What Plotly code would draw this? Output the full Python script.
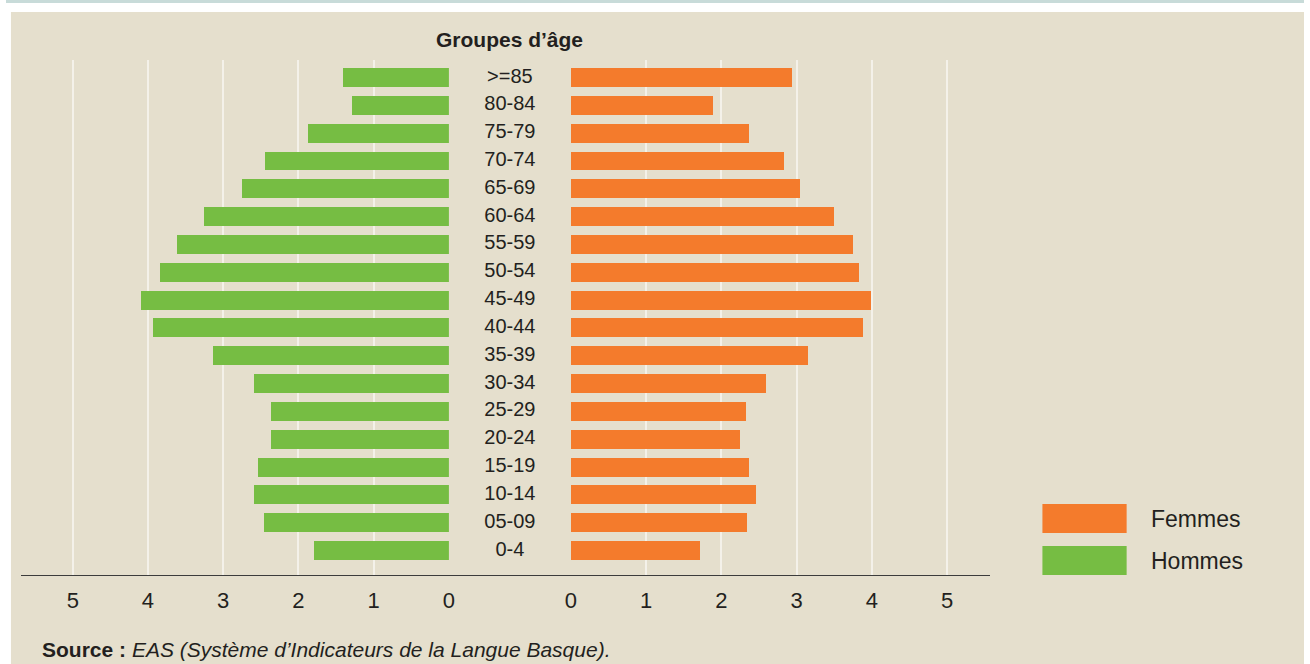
import plotly.graph_objects as go

# age groups, bottom to top
AGES = ['0-4', '05-09', '10-14', '15-19', '20-24', '25-29', '30-34', '35-39', '40-44',
        '45-49', '50-54', '55-59', '60-64', '65-69', '70-74', '75-79', '80-84', '>=85']
HOMMES = [1.79, 2.46, 2.59, 2.54, 2.37, 2.37, 2.59, 3.14, 3.93,
          4.09, 3.84, 3.61, 3.26, 2.75, 2.45, 1.88, 1.29, 1.41]
FEMMES = [1.72, 2.34, 2.46, 2.36, 2.25, 2.33, 2.59, 3.15, 3.88,
          3.99, 3.83, 3.75, 3.49, 3.04, 2.83, 2.37, 1.89, 2.94]
TICKS = [0, 1, 2, 3, 4, 5]

GREEN = '#76bd43'
ORANGE = '#f47b2c'
BEIGE = '#e5dfcd'
GRID = '#f4f1e9'
TXT = '#231f20'
FONT = 'Liberation Sans, Arial, sans-serif'

W, H = 1310, 664

def px(x):
    return x / W

def py(y):
    return 1 - y / H

fig = go.Figure()

fig.add_trace(go.Bar(
    y=AGES, x=HOMMES, orientation='h', marker=dict(color=GREEN, line=dict(width=0)),
    width=0.68, xaxis='x', yaxis='y', name='Hommes', showlegend=False
))
fig.add_trace(go.Bar(
    y=AGES, x=FEMMES, orientation='h', marker=dict(color=ORANGE, line=dict(width=0)),
    width=0.68, xaxis='x2', yaxis='y', name='Femmes', showlegend=False
))
# age labels in the middle
fig.add_trace(go.Scatter(
    y=AGES, x=[0.5] * len(AGES), mode='text', text=AGES,
    textfont=dict(family=FONT, size=20, color=TXT),
    xaxis='x3', yaxis='y', showlegend=False, hoverinfo='skip'
))

ydom = [py(575), py(60)]
common_x = dict(
    showgrid=True, gridcolor=GRID, gridwidth=1.5, zeroline=False,
    showline=True, linecolor='#3c3c3c', linewidth=1.2,
    tickmode='array', tickvals=TICKS, ticks='',
    tickfont=dict(family=FONT, size=22, color=TXT),
    ticklabelstandoff=5, anchor='y', fixedrange=True
)

fig.update_layout(
    width=W, height=H,
    margin=dict(l=0, r=0, t=0, b=0),
    paper_bgcolor='white',
    plot_bgcolor='rgba(0,0,0,0)',
    bargap=0,
    xaxis=dict(domain=[px(15), px(447)], range=[5.69, 0], **common_x),
    xaxis2=dict(domain=[px(570), px(993)], range=[0, 5.57], **common_x),
    xaxis3=dict(domain=[px(447), px(570)], range=[0, 1], showgrid=False, zeroline=False,
                showline=True, linecolor='#3c3c3c', linewidth=1.2,
                showticklabels=False, ticks='', anchor='y', fixedrange=True),
    yaxis=dict(domain=ydom, type='category', categoryarray=AGES, range=[-0.88, 17.63],
               showgrid=False, zeroline=False, showline=False, showticklabels=False,
               ticks='', fixedrange=True),
    font=dict(family=FONT, color=TXT),
    shapes=[
        # beige panel and top band
        dict(type='rect', xref='paper', yref='paper', x0=px(5), x1=1, y0=0, y1=py(12),
             fillcolor=BEIGE, line=dict(width=0), layer='below'),
        dict(type='rect', xref='paper', yref='paper', x0=0, x1=1, y0=py(3), y1=1,
             fillcolor='#c8dbd9', line=dict(width=0), layer='below'),
        # legend boxes
        dict(type='rect', xref='paper', yref='paper', x0=px(1046), x1=px(1131),
             y0=py(533), y1=py(504), fillcolor=ORANGE, line=dict(width=0)),
        dict(type='rect', xref='paper', yref='paper', x0=px(1046), x1=px(1131),
             y0=py(575), y1=py(546), fillcolor=GREEN, line=dict(width=0)),
    ],
    annotations=[
        dict(text='<b>Groupes d’âge</b>', xref='paper', yref='paper', x=px(508), y=py(40),
             showarrow=False, font=dict(family=FONT, size=21, color=TXT),
             xanchor='center', yanchor='middle'),
        dict(text='Femmes', xref='paper', yref='paper', x=px(1154), y=py(519),
             showarrow=False, font=dict(family=FONT, size=23, color=TXT),
             xanchor='left', yanchor='middle'),
        dict(text='Hommes', xref='paper', yref='paper', x=px(1154), y=py(561),
             showarrow=False, font=dict(family=FONT, size=23, color=TXT),
             xanchor='left', yanchor='middle'),
        dict(text='<b>Source :</b> <i>EAS (Système d’Indicateurs de la Langue Basque).</i>',
             xref='paper', yref='paper', x=px(34), y=py(649),
             showarrow=False, font=dict(family=FONT, size=21, color=TXT),
             xanchor='left', yanchor='middle'),
    ],
)

fig.write_html('out.html', config=dict(displayModeBar=False),
               post_script="document.body.style.margin='0';document.body.style.overflow='hidden';")
